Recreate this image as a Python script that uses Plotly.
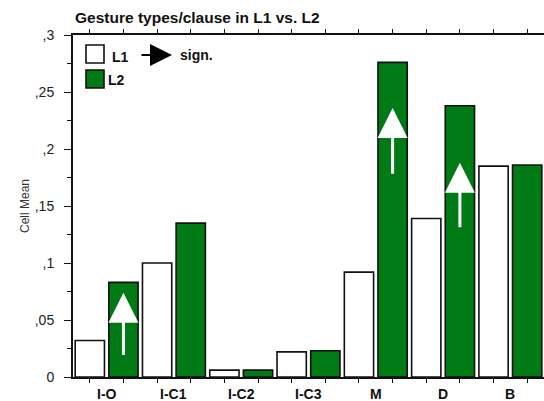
import plotly.graph_objects as go

categories = ["I-O", "I-C1", "I-C2", "I-C3", "M", "D", "B"]
l1_values = [0.032, 0.100, 0.006, 0.022, 0.092, 0.139, 0.185]
l2_values = [0.083, 0.135, 0.006, 0.023, 0.276, 0.238, 0.186]
y_tick_vals = [0, 0.05, 0.1, 0.15, 0.2, 0.25, 0.3]
y_tick_text = ["0", ",05", ",1", ",15", ",2", ",25", ",3"]
# significant increases: (category, arrow tail value, arrow tip value)
sig_cats = ["I-O", "M", "D"]
sig_tail = [0.018, 0.177, 0.130]
sig_tip = [0.074, 0.236, 0.188]

W, H = 544, 401
ML, MR, MT, MB = 73, 0, 35, 24
GREEN = "#007a14"
FONT = "Liberation Sans, Arial, sans-serif"

def px(xp):
    return (xp - ML) / (W - ML - MR)

def py(yp):
    return (H - MB - yp) / (H - MT - MB)

xs = list(range(len(categories)))

fig = go.Figure()
fig.add_trace(go.Bar(x=xs, y=l1_values, name="L1",
                     marker=dict(color="white", line=dict(color="#111", width=1.6))))
fig.add_trace(go.Bar(x=xs, y=l2_values, name="L2",
                     marker=dict(color=GREEN, line=dict(color="#111", width=1.6))))

bar_centers = []
for k in xs:
    bar_centers += [k - 0.25, k + 0.25]

annotations = []
# category labels
for k, c in zip(xs, categories):
    annotations.append(dict(x=k, y=0, xref="x", yref="y", text="<b>%s</b>" % c,
                            showarrow=False, yanchor="top", yshift=-7,
                            font=dict(family=FONT, size=14, color="#111")))
# white significance arrows inside L2 bars
for c, t0, t1 in zip(sig_cats, sig_tail, sig_tip):
    k = categories.index(c) + 0.25
    annotations.append(dict(x=k, y=t1, ax=k, ay=t0, xref="x", yref="y",
                            axref="x", ayref="y", text="", showarrow=True,
                            arrowhead=2, arrowsize=2.0, arrowwidth=3,
                            arrowcolor="white"))

# legend
annotations.append(dict(x=px(110), y=py(57), xref="paper", yref="paper", text="<b>L1</b>",
                        showarrow=False, xanchor="left", yanchor="middle",
                        font=dict(family=FONT, size=14, color="#111")))
annotations.append(dict(x=px(106), y=py(80), xref="paper", yref="paper", text="<b>L2</b>",
                        showarrow=False, xanchor="left", yanchor="middle",
                        font=dict(family=FONT, size=14, color="#111")))
annotations.append(dict(x=px(172), y=py(55), xref="paper", yref="paper", text="",
                        showarrow=True, ax=-32, ay=0, arrowhead=2, arrowsize=2.2,
                        arrowwidth=2, arrowcolor="black"))
annotations.append(dict(x=px(178), y=py(55), xref="paper", yref="paper", text="<b>sign.</b>",
                        showarrow=False, xanchor="left", yanchor="middle",
                        font=dict(family=FONT, size=14, color="#111")))
# title
annotations.append(dict(x=px(73), y=py(18), xref="paper", yref="paper",
                        text="<b>Gesture types/clause in L1 vs. L2</b>",
                        showarrow=False, xanchor="left", yanchor="middle",
                        font=dict(family=FONT, size=15.5, color="#111")))

shapes = [
    dict(type="rect", xref="paper", yref="paper", x0=px(86), x1=px(104), y0=py(63), y1=py(45),
         fillcolor="white", line=dict(color="#111", width=1.6)),
    dict(type="rect", xref="paper", yref="paper", x0=px(86), x1=px(104), y0=py(88), y1=py(70),
         fillcolor=GREEN, line=dict(color="#111", width=1.6)),
]

fig.update_layout(
    width=W, height=H, margin=dict(l=ML, r=MR, t=MT, b=MB),
    paper_bgcolor="white", plot_bgcolor="white",
    barmode="group", bargap=0.0, bargroupgap=0.13,
    showlegend=False, hovermode=False,
    annotations=annotations, shapes=shapes,
    font=dict(family=FONT, size=14, color="#222"),
)
fig.update_xaxes(range=[-0.5, 6.5], tickvals=bar_centers, ticktext=[""] * len(bar_centers),
                 ticks="outside", ticklen=4, tickwidth=1.2, tickcolor="#111",
                 showline=True, linecolor="#111", linewidth=2, mirror="ticks",
                 showgrid=False, zeroline=False)
fig.update_yaxes(range=[0, 0.3], tickvals=y_tick_vals, ticktext=y_tick_text,
                 ticks="outside", ticklen=7, tickwidth=1.4, tickcolor="#111",
                 ticklabelstandoff=7,
                 minor=dict(dtick=0.025, tick0=0, ticks="outside", ticklen=4,
                            tickwidth=1.4, tickcolor="#111", showgrid=False),
                 showline=True, linecolor="#111", linewidth=2, mirror=False,
                 showgrid=False, zeroline=False,
                 tickfont=dict(family=FONT, size=14, color="#222"),
                 title=dict(text="Cell Mean", standoff=3,
                            font=dict(family=FONT, size=12, color="#333")))

fig.write_html("out.html", config={"displayModeBar": False},
               post_script="document.body.style.margin='0';document.body.style.overflow='hidden';")
